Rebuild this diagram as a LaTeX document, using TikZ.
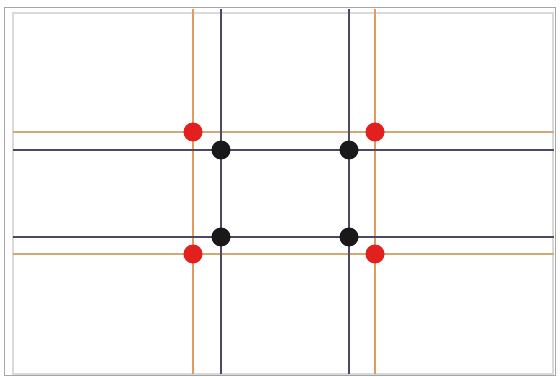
\documentclass[tikz,border=0pt]{standalone}
\usepackage{xcolor}
\usepackage{tikz}
\usetikzlibrary{positioning}

\definecolor{linegold}{RGB}{225,155,95}
\definecolor{linetan}{RGB}{208,170,112}
\definecolor{lineslate}{RGB}{76,72,106}
\definecolor{dotred}{RGB}{226,32,30}

\begin{document}
\begin{tikzpicture}[
        x=1pt, y=-1pt,
        frameline/.style={draw=gray!70, line width=1pt},
        innerframe/.style={draw=gray!30, line width=2pt},
        goldline/.style={draw=linegold, line width=2.6pt},
        tanline/.style={draw=linetan, line width=2.8pt},
        slateline/.style={draw=lineslate, line width=2.8pt},
        reddot/.style={circle, fill=dotred, inner sep=0pt, minimum size=19pt},
        blackdot/.style={circle, fill=black!90, inner sep=0pt, minimum size=19pt}
    ]
        \useasboundingbox (0,0) rectangle (560,377);
        \fill[white] (0,0) rectangle (560,377);
        % frame
        \draw[innerframe] (13,13) rectangle (553,374);
        \draw[frameline] (4,8) rectangle (555,375);
        % ends of the grid lines
        \coordinate (gl-top) at (193,9);
        \coordinate (gl-bot) at (193,374);
        \coordinate (gr-top) at (375,9);
        \coordinate (gr-bot) at (375,374);
        \coordinate (sl-top) at (221,9);
        \coordinate (sl-bot) at (221,374);
        \coordinate (sr-top) at (349,9);
        \coordinate (sr-bot) at (349,374);
        \coordinate (gt-left) at (13,132);
        \coordinate (gt-right) at (554,132);
        \coordinate (gb-left) at (13,254);
        \coordinate (gb-right) at (554,254);
        \coordinate (st-left) at (13,150);
        \coordinate (st-right) at (554,150);
        \coordinate (sb-left) at (13,237);
        \coordinate (sb-right) at (554,237);
        % gold lines
        \draw[goldline] (gl-top) -- (gl-bot);
        \draw[goldline] (gr-top) -- (gr-bot);
        \draw[tanline] (gt-left) -- (gt-right);
        \draw[tanline] (gb-left) -- (gb-right);
        % slate lines
        \draw[slateline] (sl-top) -- (sl-bot);
        \draw[slateline] (sr-top) -- (sr-bot);
        \draw[slateline] (st-left) -- (st-right);
        \draw[slateline] (sb-left) -- (sb-right);
        % dots
        \node[reddot] (r1) at (193,132) {};
        \node[reddot] (r2) at (375,132) {};
        \node[reddot] (r3) at (193,254) {};
        \node[reddot] (r4) at (375,254) {};
        \node[blackdot] (b1) at (221,150) {};
        \node[blackdot] (b2) at (349,150) {};
        \node[blackdot] (b3) at (221,237) {};
        \node[blackdot] (b4) at (349,237) {};
    \end{tikzpicture}
\end{document}
